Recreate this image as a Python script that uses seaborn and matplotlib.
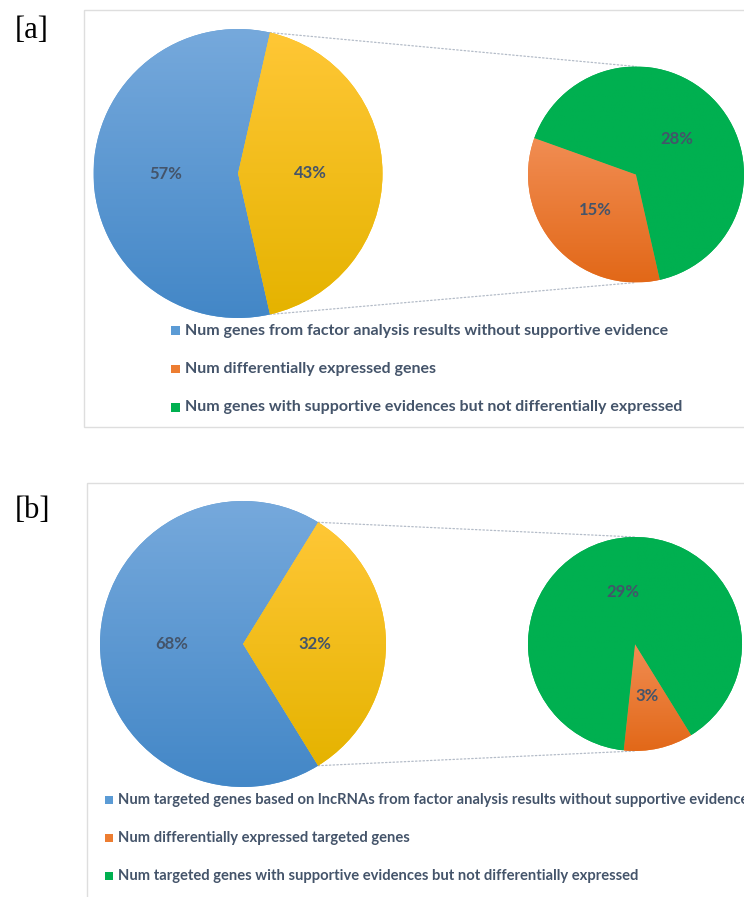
import numpy as np
import matplotlib
matplotlib.use("Agg")
import matplotlib.pyplot as plt
import seaborn as sns
from matplotlib.patches import Rectangle, ConnectionPatch
from matplotlib.colors import LinearSegmentedColormap

# panel [a]: main pie = [no evidence, broken-out part], sub pie = [DE, supported not DE]
a_main = [57.1, 42.9]
a_sub = [14.6, 28.3]
a_legend = ["Num genes from factor analysis results without supportive evidence",
            "Num differentially expressed genes",
            "Num genes with supportive evidences but not differentially expressed"]

# panel [b]
b_main = [67.6, 32.4]
b_sub = [3.4, 29.0]
b_legend = ["Num targeted genes based on lncRNAs from factor analysis results without supportive evidence",
            "Num differentially expressed targeted genes",
            "Num targeted genes with supportive evidences but not differentially expressed"]

panel_tags = ["[a]", "[b]"]

# slice colours (mid, top, bottom of the gradient)
blue = ("#5B9BD5", "#76A9DC", "#4387C7")
yellow = ("#FFC000", "#FFC736", "#E5B300")
orange = ("#ED7D31", "#F18D53", "#E26818")
green = ("#00B050", "#00B050", "#00B050")
text_col = "#44546A"

sns.set_theme(style="white")
plt.rcParams['font.family'] = ['Lato', 'DejaVu Sans']

W, H = 744, 897
fig = plt.figure(figsize=(W / 100, H / 100), dpi=100)
bg = fig.add_axes([0, 0, 1, 1], zorder=0)
bg.set_xlim(0, W)
bg.set_ylim(H, 0)
bg.axis('off')
renderer = fig.canvas.get_renderer()


def fit_size(text, width, **kw):
    t = fig.text(0, 0, text, fontsize=10, **kw)
    w = t.get_window_extent(renderer=renderer).width
    t.remove()
    return 10 * width / w


def pie_axes(cx, cy, r):
    return fig.add_axes([(cx - r) / W, 1 - (cy + r) / H, 2 * r / W, 2 * r / H], zorder=2)


def shade(ax, wedge, cols):
    x0, y0, x1, y1 = wedge.get_path().get_extents().extents
    grad = np.linspace(0, 1, 256).reshape(-1, 1)
    cmap = LinearSegmentedColormap.from_list("g", [cols[2], cols[1]])
    im = ax.imshow(grad, cmap=cmap, extent=(x0, x1, y0, y1), origin='lower',
                   aspect='auto', interpolation='bilinear', zorder=1.5)
    im.set_clip_path(wedge)


def pie_of_pie(main, sub, big, small, pct_size):
    ax1 = pie_axes(*big)
    ax2 = pie_axes(*small)
    split = 180 * main[1] / sum(main)
    tp = dict(color=text_col, fontsize=pct_size, fontweight='bold')
    w1, _, _ = ax1.pie(main, colors=[blue[0], yellow[0]], startangle=split,
                       autopct=lambda p: f"{p:.0f}%", pctdistance=0.5,
                       wedgeprops=dict(linewidth=0), textprops=tp)
    s = sum(sub)
    w2, _, _ = ax2.pie(sub, colors=[orange[0], green[0]], startangle=-split,
                       counterclock=False,
                       autopct=lambda p: f"{p * s / 100:.0f}%", pctdistance=0.5,
                       wedgeprops=dict(linewidth=0), textprops=tp)
    for w, c in zip(w1, [blue, yellow]):
        shade(ax1, w, c)
    for w, c in zip(w2, [orange, green]):
        shade(ax2, w, c)
    for ax in (ax1, ax2):
        ax.set_xlim(-1, 1)
        ax.set_ylim(-1, 1)
        ax.set_aspect('equal')
        ax.axis('off')
    # dotted connectors from the split edges to the top/bottom of the sub pie
    t_top, t_bot = np.deg2rad(w1[1].theta2), np.deg2rad(w1[1].theta1)
    for (xa, ya), yb in [((np.cos(t_top), np.sin(t_top)), 1), ((np.cos(t_bot), np.sin(t_bot)), -1)]:
        con = ConnectionPatch(xyA=(xa, ya), coordsA=ax1.transData,
                              xyB=(0, yb), coordsB=ax2.transData,
                              color="#B4BCC8", lw=0.9, linestyle=(0, (1.2, 1.8)), zorder=1)
        fig.add_artist(con)


def legend_rows(labels, x_sq, x_txt, ys, size, sq):
    for lab, y, c in zip(labels, ys, [blue[0], orange[0], green[0]]):
        bg.add_patch(Rectangle((x_sq, y - sq / 2), sq, sq, color=c, lw=0))
        bg.text(x_txt, y, lab, fontsize=size, color=text_col, fontweight='bold',
                va='center', ha='left')


# frames
bg.add_patch(Rectangle((84, 10.5), 700, 417, fill=False, ec="#DEDEDE", lw=1))
bg.add_patch(Rectangle((86.5, 483.3), 700, 450, fill=False, ec="#DEDEDE", lw=1))

# panel tags
for tag, y in zip(panel_tags, [30.5, 510.5]):
    bg.text(15, y, tag, fontsize=22, family='Liberation Serif', color='black',
            va='center', ha='left')

leg_size = fit_size(a_legend[0], 487, fontweight='bold')

pie_of_pie(a_main, a_sub, (238, 173.5, 144.5), (636, 174.5, 108), 12)
pie_of_pie(b_main, b_sub, (243, 644, 143), (635, 644, 107), 12)

legend_rows(a_legend, 171, 185, [330.7, 369, 407.3], leg_size, 8.5)
legend_rows(b_legend, 105, 118, [800, 838.3, 875.7], leg_size * 0.92, 8)

fig.savefig("out.png", dpi=100)
